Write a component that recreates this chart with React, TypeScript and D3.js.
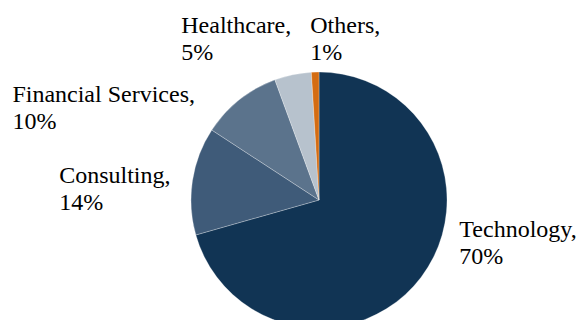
import React from "react";
import * as d3 from "d3";

const categories = ["Technology", "Consulting", "Financial Services", "Healthcare", "Others"];
// slice sizes as drawn in the reference pie
const shares = [70.6, 13.6, 10.2, 4.65, 0.95];
// percentages as printed in the labels
const shareLabels = ["70%", "14%", "10%", "5%", "1%"];
const colors = ["#113454", "#3f5b79", "#5b738c", "#b7c2cd", "#d46c12"];
// label nudges relative to a point just outside the slice's mid-angle (layout only)
const labelNudges: [number, number][] = [
  [19, -51],
  [-111, 2],
  [-211, 18],
  [-105, -21],
  [-4, -17],
];

const W = 578;
const H = 320;
const CX = 319;
const CY = 200;
const R = 128;
const FONT = 24;
const LINE = 27;

type D = { c: string; v: number; i: number };

export default function App() {
  const data: D[] = categories.map((c, i) => ({ c, v: shares[i], i }));
  const pie = d3
    .pie<D>()
    .value((d) => d.v)
    .sort(null)
    .startAngle(0)
    .endAngle(2 * Math.PI);
  const arcs = pie(data);
  const arc = d3.arc<d3.PieArcDatum<D>>().innerRadius(0).outerRadius(R);
  const fixedMid = [126, 277.2, 320.4, 347.4, 358.2].map((d) => (d * Math.PI) / 180);

  return (
    <svg
      width={W}
      height={H}
      style={{ position: "absolute", left: 0, top: 0, background: "#fff" }}
    >
      <g transform={`translate(${CX},${CY})`}>
        {arcs.map((a, i) => (
          <path
            key={i}
            d={arc(a) || ""}
            fill={colors[i]}
            stroke="#ffffff"
            strokeOpacity={0.45}
            strokeWidth={0.6}
          />
        ))}
      </g>
      {arcs.map((a, i) => {
        const mid = fixedMid[i];
        const px = CX + 150 * Math.sin(mid);
        const py = CY - 150 * Math.cos(mid);
        const x = px + labelNudges[i][0];
        const y = py + labelNudges[i][1];
        return (
          <text
            key={i}
            x={x}
            y={y}
            fill="#000"
            style={{ fontFamily: '"Liberation Serif", "Times New Roman", serif', fontSize: FONT }}
          >
            <tspan x={x} y={y}>{`${a.data.c},`}</tspan>
            <tspan x={x} y={y + LINE}>{shareLabels[i]}</tspan>
          </text>
        );
      })}
    </svg>
  );
}
